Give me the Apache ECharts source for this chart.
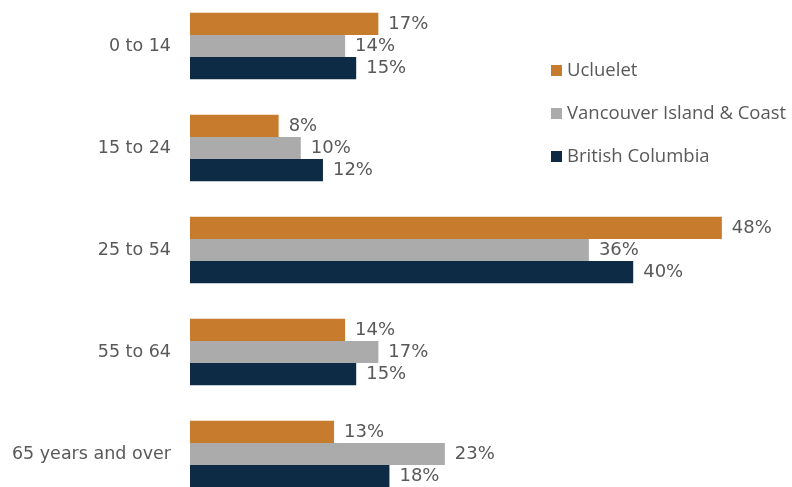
<!DOCTYPE html>
<html>
<head>
<meta charset="utf-8">
<script src="https://cdn.jsdelivr.net/npm/echarts@6/dist/echarts.min.js"></script>
<style>
  html, body { margin: 0; padding: 0; background: #ffffff; }
  #chart { width: 792px; height: 487px; }
</style>
</head>
<body>
<div id="chart"></div>
<script>
// Age groups (top to bottom)
const categories = ['0 to 14', '15 to 24', '25 to 54', '55 to 64', '65 years and over'];
// Share of population in each age group, percent
const ucluelet = [17, 8, 48, 14, 13];
const vancouverIsland = [14, 10, 36, 17, 23];
const britishColumbia = [15, 12, 40, 15, 18];
const seriesNames = ['Ucluelet', 'Vancouver Island & Coast', 'British Columbia'];
const seriesColors = ['#C77B2C', '#ABABAB', '#0E2B45'];

const labelFont = '"DejaVu Sans", sans-serif';
const textColor = '#595959';

const chart = echarts.init(document.getElementById('chart'));

function makeSeries(name, data, color) {
  return {
    name: name,
    type: 'bar',
    data: data,
    barGap: '0%',
    barCategoryGap: '35%',
    itemStyle: { color: color },
    label: {
      show: true,
      position: 'right',
      distance: 10,
      formatter: '{c}%',
      color: textColor,
      fontFamily: labelFont,
      fontSize: 18
    }
  };
}

chart.setOption({
  animation: false,
  grid: {
    left: 190, width: 554, top: -5, height: 510,
    containLabel: false,
    outerBoundsMode: 'none'
  },
  xAxis: {
    type: 'value',
    min: 0,
    max: 50,
    show: false
  },
  yAxis: {
    type: 'category',
    data: categories,
    inverse: true,
    axisLine: { show: false },
    axisTick: { show: false },
    axisLabel: {
      color: textColor,
      fontFamily: labelFont,
      fontSize: 17.5,
      margin: 19
    }
  },
  legend: {
    orient: 'vertical',
    left: 546,
    top: 56,
    icon: 'rect',
    itemWidth: 11,
    itemHeight: 11,
    itemGap: 24,
    textStyle: {
      color: textColor,
      fontFamily: '"Open Sans", sans-serif',
      fontSize: 18.5
    },
    data: seriesNames
  },
  series: [
    makeSeries(seriesNames[0], ucluelet, seriesColors[0]),
    makeSeries(seriesNames[1], vancouverIsland, seriesColors[1]),
    makeSeries(seriesNames[2], britishColumbia, seriesColors[2])
  ]
});
</script>
</body>
</html>
